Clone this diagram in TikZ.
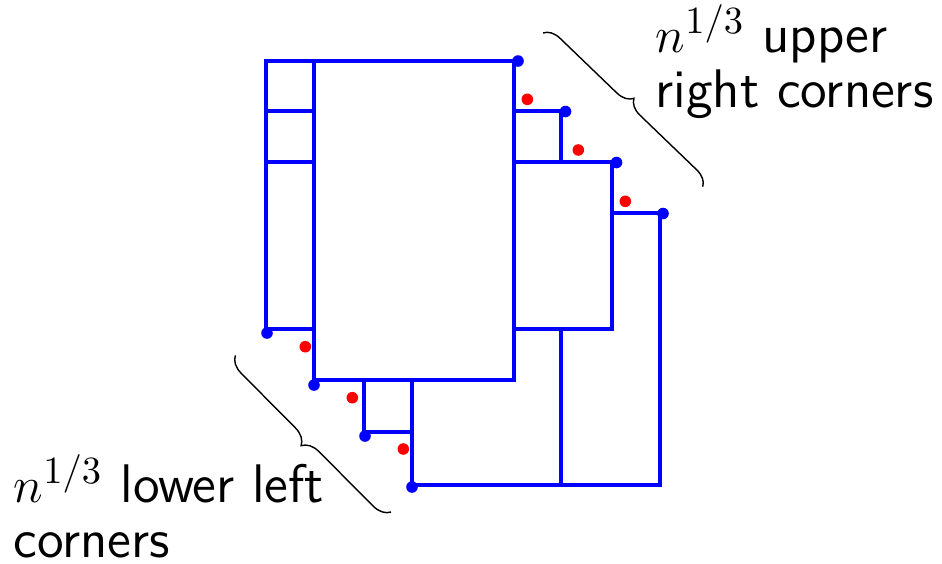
\documentclass[tikz,border=0pt]{standalone}
\usetikzlibrary{decorations.pathreplacing}
\begin{document}
\begin{tikzpicture}[x=0.01cm,y=-0.01cm,
  wall/.style={draw=blue,line width=4*0.01cm,line join=miter},
  bdot/.style={fill=blue},
  rdot/.style={fill=red},
  bracepath/.style={draw=black,line width=0.4pt,decorate,decoration={brace,amplitude=0.16cm}},
  lbl/.style={inner sep=0pt,anchor=base west,font=\sffamily\fontsize{15.45}{15.6}\selectfont}]
\useasboundingbox (0,0) rectangle (942,563);

% column on the left
\draw[wall] (266,61) rectangle (314,329);
\draw[wall] (266,111) -- (314,111);
\draw[wall] (266,162) -- (314,162);
% main block
\draw[wall] (314,61) rectangle (514,380);
% staircase to the upper right
\draw[wall] (514,111) -- (561,111) -- (561,162);
\draw[wall] (514,162) rectangle (612,329);
\draw[wall] (612,213) -- (660,213) -- (660,485) -- (412,485) -- (412,380);
\draw[wall] (561,329) -- (561,485);
% staircase to the lower left
\draw[wall] (364,380) -- (364,432) -- (412,432);

% upper right corners
\coordinate (u1) at (518,61);
\coordinate (u2) at (565.5,111.5);
\coordinate (u3) at (616.5,162.5);
\coordinate (u4) at (663,213.5);
\foreach \p in {u1,u2,u3,u4} \fill[bdot] (\p) circle (5.8);
% lower left corners
\coordinate (l1) at (267,333);
\coordinate (l2) at (314,385);
\coordinate (l3) at (365,436);
\coordinate (l4) at (412,487);
\foreach \p in {l1,l2,l3,l4} \fill[bdot] (\p) circle (5.8);
% red points between consecutive corners
\foreach \p in {(527.3,99.3),(578.3,150),(625.3,201.3),(305.3,346.7),(352.3,397.7),(403.3,449)}
  \fill[rdot] \p circle (5.8);

% braces
\coordinate (ba) at (543,33);
\coordinate (bb) at (703,187);
\draw[bracepath] (ba) -- (bb);
\coordinate (bc) at (391,512);
\coordinate (bd) at (235,355);
\draw[bracepath,decoration={amplitude=0.17cm}] (bc) -- (bd);

% labels
\node[lbl] (t1) at (655,52) {$n^{1/3}$ upper};
\node[lbl] (t2) at (655,107) {right corners};
\node[lbl] (t3) at (13,502) {$n^{1/3}$ lower left};
\node[lbl] (t4) at (13,557) {corners};
\end{tikzpicture}
\end{document}
